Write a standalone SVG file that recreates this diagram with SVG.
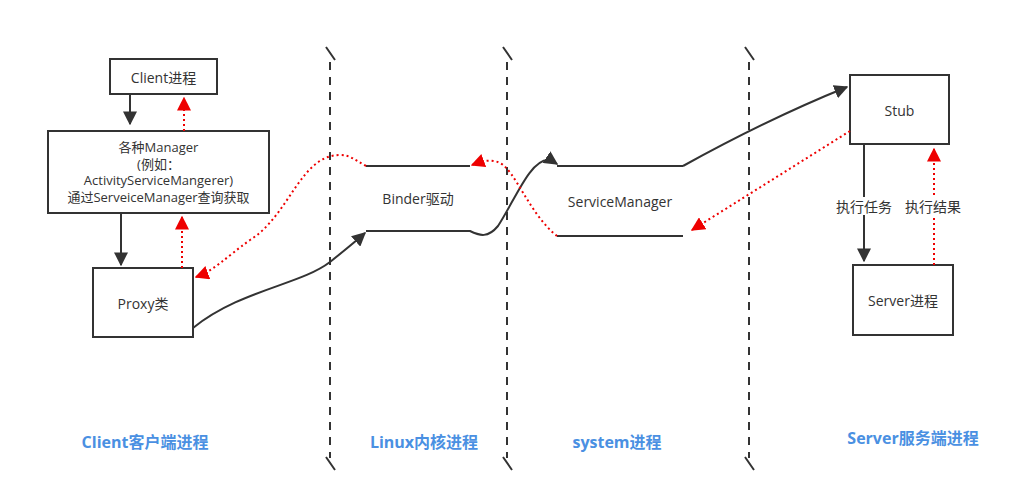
<svg xmlns="http://www.w3.org/2000/svg" width="1026" height="504" viewBox="0 0 1026 504">
<style>
.box{fill:#fff;stroke:#333;stroke-width:2}
.t{font-family:"Open Sans","Noto Sans CJK SC",sans-serif;font-size:14px;fill:#333;text-anchor:middle;dominant-baseline:central}
.m{font-size:13px}
.lbl{font-family:"Open Sans","Noto Sans CJK SC",sans-serif;font-size:16px;font-weight:bold;fill:#4a90e2;text-anchor:middle;dominant-baseline:central}
.life{stroke:#333;stroke-width:2;stroke-dasharray:8,7;fill:none}
.tick{stroke:#333;stroke-width:2;fill:none}
.solid{stroke:#333;stroke-width:2;fill:none}
.dot{stroke:#e00;stroke-width:2;stroke-dasharray:2,3;fill:none}
</style>
<defs>
<marker id="ab" viewBox="0 0 10 10" refX="9" refY="5" markerWidth="7" markerHeight="7" orient="auto" markerUnits="strokeWidth"><path d="M0,0L10,5L0,10z" fill="#333"/></marker>
<marker id="ar" viewBox="0 0 10 10" refX="9" refY="5" markerWidth="7" markerHeight="7" orient="auto" markerUnits="strokeWidth"><path d="M0,0L10,5L0,10z" fill="#e00"/></marker>
</defs>
<rect width="1026" height="504" fill="#fff"/>
<g id="lifelines">
<path class="life" d="M330,62V458M507,62V458M749,62V458"/>
<path class="tick" d="M326,47L335,60M503,47L512,60M745,47L754,60M326,457L335,470M503,457L512,470M745,457L754,470"/>
</g>
<g id="client"><rect class="box" x="110" y="59" width="107" height="35"/><text class="t" x="163.5" y="77">Client进程</text></g>
<g id="manager"><rect class="box" x="48" y="131" width="221" height="82"/>
<text class="t m" x="158.5" y="147">各种Manager</text>
<text class="t m" x="158.5" y="164">(例如：</text>
<text class="t m" x="158.5" y="180">ActivityServiceMangerer)</text>
<text class="t m" x="158.5" y="197">通过ServeiceManager查询获取</text></g>
<g id="proxy"><rect class="box" x="93" y="268" width="100" height="69"/><text class="t" x="143" y="303">Proxy类</text></g>
<g id="binder"><path class="solid" d="M366,166H470"/><text class="t" x="418" y="198">Binder驱动</text></g>
<g id="servicemanager"><path class="solid" d="M557,166H683M557,236H683"/><text class="t" x="620" y="201">ServiceManager</text></g>
<g id="stub"><rect class="box" x="850" y="75" width="99" height="69"/><text class="t" x="899.5" y="110">Stub</text></g>
<g id="server"><rect class="box" x="853" y="265" width="100" height="70"/><text class="t" x="903" y="300">Server进程</text></g>
<g id="connectors">
<path class="solid" d="M130,94V124" marker-end="url(#ab)"/>
<path class="dot" d="M184,131V98" marker-end="url(#ar)"/>
<path class="solid" d="M121,213V265" marker-end="url(#ab)"/>
<path class="dot" d="M182,268V217" marker-end="url(#ar)"/>
<path class="solid" d="M193,328C240,290 300,285 330,262C345,250 355,242 365,233" marker-end="url(#ab)"/>
<path class="solid" d="M366,231H470C480,236 488,238 498,226C515,200 530,160 548,160C552,160 554,162 557,164" marker-end="url(#ab)"/>
<path class="solid" d="M683,166C730,140 790,110 847,87" marker-end="url(#ab)"/>
<path class="dot" d="M366,166C355,160 350,155 340,155C300,155 290,215 250,240C225,258 215,270 196,277" marker-end="url(#ar)"/>
<path class="dot" d="M557,236C530,215 515,170 500,163C490,158 480,162 472,165" marker-end="url(#ar)"/>
<path class="dot" d="M850,131L692,230" marker-end="url(#ar)"/>
<path class="solid" d="M864,145V261" marker-end="url(#ab)"/>
<path class="dot" d="M934,265V149" marker-end="url(#ar)"/>
<rect x="834" y="197" width="60" height="18" fill="#fff"/>
<text class="t" x="864" y="206">执行任务</text>
<rect x="903" y="197" width="60" height="18" fill="#fff"/>
<text class="t" x="933" y="206">执行结果</text>
</g>
<g id="labels">
<text class="lbl" x="145" y="442">Client客户端进程</text>
<text class="lbl" x="424" y="442">Linux内核进程</text>
<text class="lbl" x="617" y="442">system进程</text>
<text class="lbl" x="913" y="438">Server服务端进程</text>
</g>
</svg>
